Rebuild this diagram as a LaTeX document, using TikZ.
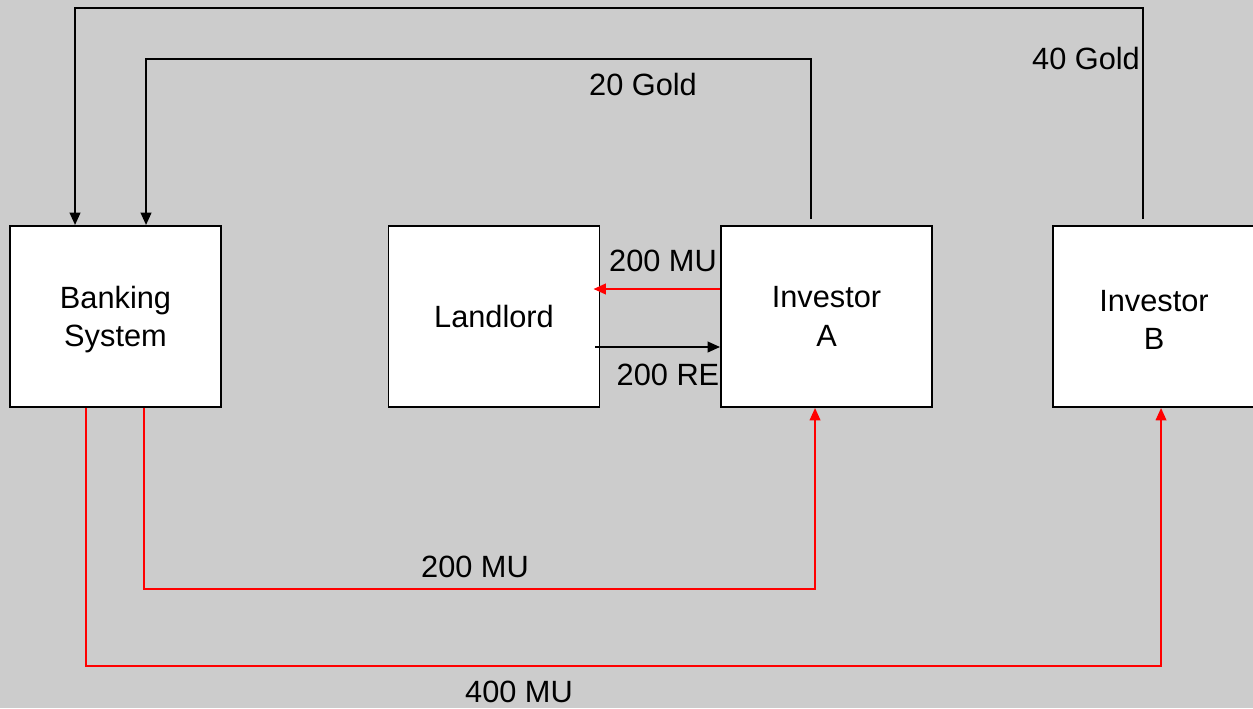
\documentclass[tikz,border=0pt]{standalone}
\usepackage{fontspec}
\setmainfont{Liberation Sans}
\usetikzlibrary{arrows.meta,positioning}

\begin{document}
\begin{tikzpicture}[>={Triangle[length=7pt,width=6pt]},
  every node/.style={font=\fontsize{17.5}{22}\selectfont, text=black, align=center},
  party/.style={draw=black, line width=1.1pt, fill=white, minimum width=4.22cm, minimum height=3.62cm, inner sep=0pt, text depth=0pt},
  goldflow/.style={draw=black, line width=1.1pt, ->},
  moneyflow/.style={draw=moneycol, line width=1.1pt, ->}]
  % Define colors
  \colorlet{moneycol}{red}
  \definecolor{paper}{RGB}{204,204,204}

  % Background and page size
  \fill[paper] (0,0) rectangle (25.06,14.16);
  \useasboundingbox (0,0) rectangle (25.06,14.16);

  % Label hidden partly behind Investor A
  \node (re200) at (13.36,6.66) {200 RE};

  % Parties
  \node[party] (bank) at (2.31,7.83) {Banking\\System};
  \node[party] (landlord) at (9.88,7.83) {Landlord};
  \node[party] (invA) at (16.53,7.83) {Investor\\A};
  \node[party] (invB) at (23.17,7.83) {};
  \node (invBtext) at (23.08,7.76) {Investor\\B};

  % Gold to the banking system
  \draw[goldflow] ([xshift=1.82cm,yshift=0.12cm]invB.north west) -- ++(0,4.22) -| ([xshift=1.32cm]bank.north west);
  \draw[goldflow] ([xshift=1.82cm,yshift=0.12cm]invA.north west) -- ++(0,3.2) -| ([xshift=2.74cm]bank.north west);

  % Land deal
  \draw[moneyflow] ([yshift=0.55cm]invA.west) -- ([xshift=-0.14cm,yshift=0.55cm]landlord.east);
  \draw[goldflow] ([xshift=-0.1cm,yshift=-0.61cm]landlord.east) -- ([yshift=-0.61cm]invA.west);

  % Loans from the banking system
  \draw[moneyflow] ([xshift=2.7cm]bank.south west) -- ++(0,-3.62) -| ([xshift=1.9cm]invA.south west);
  \draw[moneyflow] ([xshift=1.54cm]bank.south west) -- ++(0,-5.16) -| ([xshift=2.18cm]invB.south west);

  % Labels
  \node (gold20) at (12.86,12.46) {20 Gold};
  \node (gold40) at (21.72,12.98) {40 Gold};
  \node (mu200a) at (13.26,8.94) {200 MU};
  \node (mu200b) at (9.5,2.82) {200 MU};
  \node (mu400) at (10.38,0.32) {400 MU};
\end{tikzpicture}
\end{document}
